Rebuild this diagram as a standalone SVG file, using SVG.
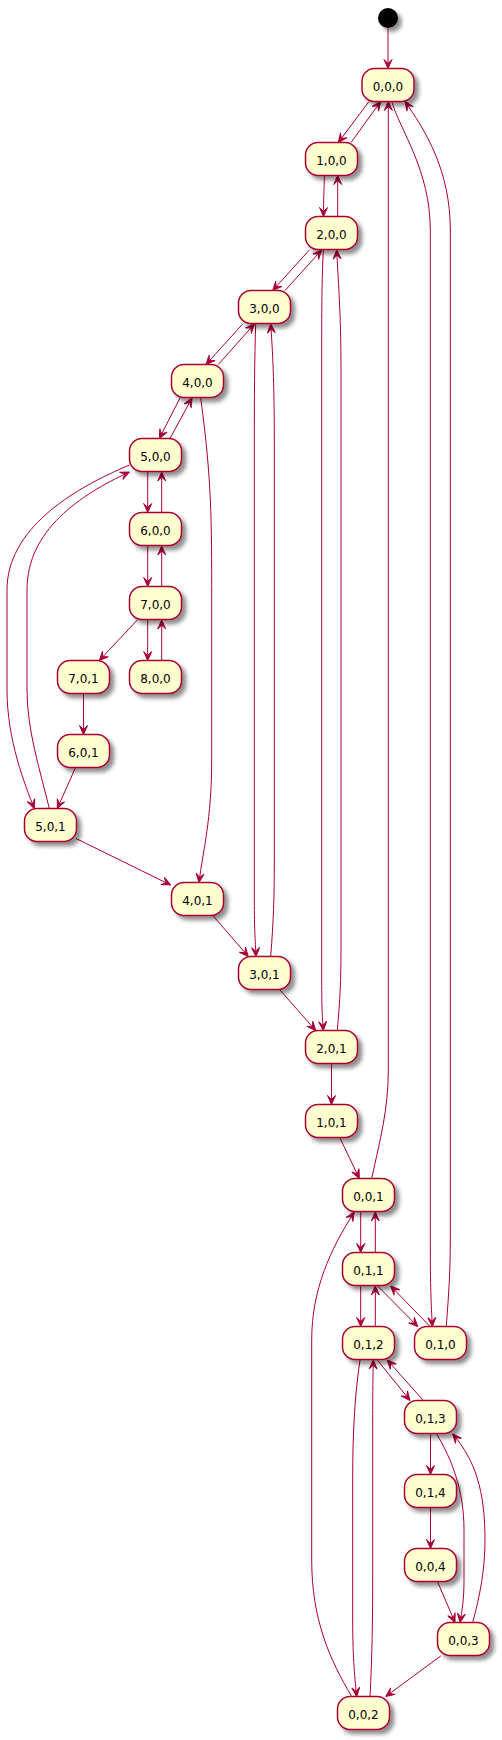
<svg xmlns="http://www.w3.org/2000/svg" width="502" height="1740" viewBox="0 0 502 1740">
<style>
.n rect{fill:#FEFECE;stroke:#A80036;stroke-width:1.5;filter:url(#sh)}
.n text{font-family:"DejaVu Sans",sans-serif;font-size:12px;fill:#000;text-anchor:middle}
#edges path{fill:none;stroke:#A80036;stroke-width:1;marker-end:url(#ah)}
</style>
<defs>
<filter id="sh" x="-20%" y="-20%" width="150%" height="160%">
<feGaussianBlur in="SourceAlpha" stdDeviation="2"/>
<feOffset dx="4" dy="4" result="b"/>
<feComponentTransfer><feFuncA type="linear" slope="0.45"/></feComponentTransfer>
<feMerge><feMergeNode/><feMergeNode in="SourceGraphic"/></feMerge>
</filter>
<marker id="ah" viewBox="0 0 10 10" refX="10" refY="5" markerWidth="10" markerHeight="10" markerUnits="userSpaceOnUse" orient="auto">
<path d="M10,5 L1,1 L5,5 L1,9 Z" fill="#A80036" stroke="#A80036" stroke-width="1"/>
</marker>
</defs>
<g id="start"><circle cx="388" cy="18" r="10" fill="#000" filter="url(#sh)"/></g>
<g id="edges">
<path d="M388,28 L388,68.5"/>
<path d="M369,101.5 L338.3,142.5"/>
<path d="M351,142.5 L380.7,101.5"/>
<path d="M324.5,175.5 C324,190 323.5,200 323.5,216.5"/>
<path d="M337.7,216.5 L337.7,175.5"/>
<path d="M309.3,250 L272.7,290.5"/>
<path d="M285,290.5 L321.7,250"/>
<path d="M242.7,324 L206,364.5"/>
<path d="M218.3,364.5 L254.3,324"/>
<path d="M180,398 L159.3,438.5"/>
<path d="M170,438.5 L192,398"/>
<path d="M147.7,472 L147.7,512.5"/>
<path d="M161.7,512.5 L161.7,472"/>
<path d="M147.7,546 L147.7,586.5"/>
<path d="M161.7,586.5 L161.7,546"/>
<path d="M147.7,620 L147.7,660.5"/>
<path d="M161.7,660.5 L161.7,620"/>
<path d="M137.3,620 L99.3,660.5"/>
<path d="M83.5,694 L83.5,734.5"/>
<path d="M75.3,768 L57.3,808.5"/>
<path d="M129.5,465 C70,490 7,530 7,590 L7,690 C7,740 25,785 34.3,808.5"/>
<path d="M49.3,808.5 C40,770 27,730 27,690 L27,590 C27,530 80,495 129.3,472"/>
<path d="M76,838.5 L170.7,885"/>
<path d="M200.7,398 C211.7,480 211.7,520 211.7,600 L211.7,760 C211.7,820 203,850 199,882.5"/>
<path d="M213.3,916 L248.3,956.5"/>
<path d="M255.7,324 C254.5,360 254.3,400 254.3,440 L254.3,900 C254.3,930 255.5,945 256,956.5"/>
<path d="M270.7,956.5 C273.5,920 274.3,900 274.3,860 L274.3,440 C274.3,380 272.5,350 270.7,324"/>
<path d="M280,990 L315.7,1030.5"/>
<path d="M323.3,250 C322,280 321.7,300 321.7,340 L321.7,980 C321.7,1010 322.5,1020 323.3,1030.5"/>
<path d="M337.3,1030.5 C340,1000 341,980 341,950 L341,370 C341,310 338,280 336.7,250"/>
<path d="M331.5,1064 L331.5,1104.5"/>
<path d="M340,1138 L359.3,1178.5"/>
<path d="M371.7,1178.5 C380,1140 388.3,1110 388.3,1070 L388.3,101.5"/>
<path d="M391.7,101.5 C400,130 430.3,170 430.3,230 L430.3,1250 C430.3,1290 431.5,1310 432.3,1326.5"/>
<path d="M446.3,1326.5 C449,1290 450.3,1270 450.3,1240 L450.3,230 C450.3,170 425,130 405,101.5"/>
<path d="M360.7,1212 L360.7,1252.5"/>
<path d="M375.3,1252.5 L375.3,1212"/>
<path d="M360.7,1286 L360.7,1326.5"/>
<path d="M375.3,1326.5 L375.3,1286"/>
<path d="M377.7,1286 L417.7,1326.5"/>
<path d="M430,1326.5 L390.7,1286"/>
<path d="M377.3,1360 L410,1400.5"/>
<path d="M423.3,1400.5 L387.3,1360"/>
<path d="M360,1360 C354,1400 352.7,1440 352.7,1480 L352.7,1620 C352.7,1660 355,1680 356.7,1696.5"/>
<path d="M370,1696.5 C372,1660 372.7,1620 372.7,1580 L372.7,1420 C372.7,1390 373,1375 373.3,1360"/>
<path d="M351.7,1696.5 C330,1660 311.7,1620 311.7,1560 L311.7,1340 C311.7,1290 330,1250 354.3,1212"/>
<path d="M430.5,1434 L430.5,1474.5"/>
<path d="M430.5,1508 L430.5,1548.5"/>
<path d="M437.7,1582 L455,1622.5"/>
<path d="M436.7,1434 C452,1460 464,1490 464,1530 L464,1580 C464,1600 462,1610 460,1622.5"/>
<path d="M472.7,1622.5 C480,1595 485,1570 485,1540 C485,1490 475,1460 452.7,1434"/>
<path d="M440.7,1656 L385.7,1696.5"/>
</g>
<g id="s000" class="n"><rect x="362" y="68.5" width="52" height="33" rx="12.5"/><text x="388" y="90.5">0,0,0</text></g>
<g id="s100" class="n"><rect x="305.5" y="142.5" width="52" height="33" rx="12.5"/><text x="331.5" y="164.5">1,0,0</text></g>
<g id="s200" class="n"><rect x="305.5" y="216.5" width="52" height="33" rx="12.5"/><text x="331.5" y="238.5">2,0,0</text></g>
<g id="s300" class="n"><rect x="238.5" y="290.5" width="52" height="33" rx="12.5"/><text x="264.5" y="312.5">3,0,0</text></g>
<g id="s400" class="n"><rect x="171.5" y="364.5" width="52" height="33" rx="12.5"/><text x="197.5" y="386.5">4,0,0</text></g>
<g id="s500" class="n"><rect x="129.5" y="438.5" width="52" height="33" rx="12.5"/><text x="155.5" y="460.5">5,0,0</text></g>
<g id="s600" class="n"><rect x="129.5" y="512.5" width="52" height="33" rx="12.5"/><text x="155.5" y="534.5">6,0,0</text></g>
<g id="s700" class="n"><rect x="129.5" y="586.5" width="52" height="33" rx="12.5"/><text x="155.5" y="608.5">7,0,0</text></g>
<g id="s800" class="n"><rect x="129.5" y="660.5" width="52" height="33" rx="12.5"/><text x="155.5" y="682.5">8,0,0</text></g>
<g id="s701" class="n"><rect x="57.5" y="660.5" width="52" height="33" rx="12.5"/><text x="83.5" y="682.5">7,0,1</text></g>
<g id="s601" class="n"><rect x="57.5" y="734.5" width="52" height="33" rx="12.5"/><text x="83.5" y="756.5">6,0,1</text></g>
<g id="s501" class="n"><rect x="24.5" y="808.5" width="52" height="33" rx="12.5"/><text x="50.5" y="830.5">5,0,1</text></g>
<g id="s401" class="n"><rect x="171.5" y="882.5" width="52" height="33" rx="12.5"/><text x="197.5" y="904.5">4,0,1</text></g>
<g id="s301" class="n"><rect x="238.5" y="956.5" width="52" height="33" rx="12.5"/><text x="264.5" y="978.5">3,0,1</text></g>
<g id="s201" class="n"><rect x="305.5" y="1030.5" width="52" height="33" rx="12.5"/><text x="331.5" y="1052.5">2,0,1</text></g>
<g id="s101" class="n"><rect x="305.5" y="1104.5" width="52" height="33" rx="12.5"/><text x="331.5" y="1126.5">1,0,1</text></g>
<g id="s001" class="n"><rect x="342.5" y="1178.5" width="52" height="33" rx="12.5"/><text x="368.5" y="1200.5">0,0,1</text></g>
<g id="s011" class="n"><rect x="342.5" y="1252.5" width="52" height="33" rx="12.5"/><text x="368.5" y="1274.5">0,1,1</text></g>
<g id="s012" class="n"><rect x="342.5" y="1326.5" width="52" height="33" rx="12.5"/><text x="368.5" y="1348.5">0,1,2</text></g>
<g id="s010" class="n"><rect x="414.5" y="1326.5" width="52" height="33" rx="12.5"/><text x="440.5" y="1348.5">0,1,0</text></g>
<g id="s013" class="n"><rect x="404.5" y="1400.5" width="52" height="33" rx="12.5"/><text x="430.5" y="1422.5">0,1,3</text></g>
<g id="s014" class="n"><rect x="404.5" y="1474.5" width="52" height="33" rx="12.5"/><text x="430.5" y="1496.5">0,1,4</text></g>
<g id="s004" class="n"><rect x="404.5" y="1548.5" width="52" height="33" rx="12.5"/><text x="430.5" y="1570.5">0,0,4</text></g>
<g id="s003" class="n"><rect x="437.5" y="1622.5" width="52" height="33" rx="12.5"/><text x="463.5" y="1644.5">0,0,3</text></g>
<g id="s002" class="n"><rect x="337.5" y="1696.5" width="52" height="33" rx="12.5"/><text x="363.5" y="1718.5">0,0,2</text></g>
</svg>
